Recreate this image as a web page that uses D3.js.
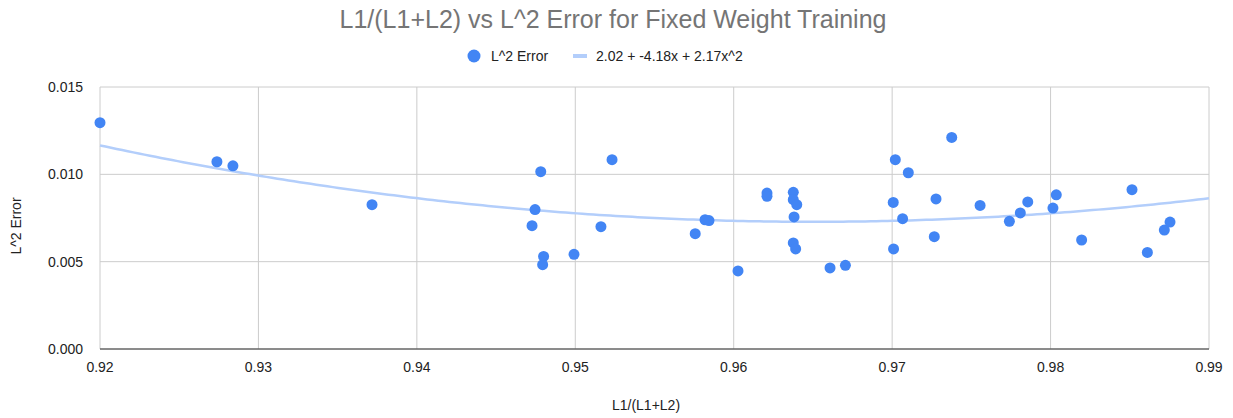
<html>
<head>
<script src="https://cdn.jsdelivr.net/npm/d3@7"></script>
<style>
  body { margin: 0; background: #fff; }
  text { font-family: Arial, "Liberation Sans", sans-serif; }
</style>
</head>
<body>
<svg id="chart" width="1233" height="418"></svg>
<script>
// data
var ratio = [0.9200, 0.92738, 0.92839, 0.93717,
  0.94746, 0.94727, 0.94782, 0.94800, 0.94794, 0.94992, 0.95162, 0.95232,
  0.95757, 0.95819, 0.95844, 0.96027, 0.96210, 0.96210, 0.96376, 0.96376,
  0.96398, 0.96381, 0.96376, 0.96391,
  0.96608, 0.96705, 0.97020, 0.97102, 0.97007, 0.97066, 0.97009, 0.97277,
  0.97266, 0.97376, 0.97555, 0.97740, 0.97809, 0.97856, 0.98015, 0.98036,
  0.98196, 0.98514, 0.98611, 0.98718, 0.98754];
var l2err = [0.01296, 0.01072, 0.01049, 0.00826,
  0.00798, 0.00706, 0.01015, 0.00530, 0.00483, 0.00542, 0.00700, 0.01084,
  0.00660, 0.00740, 0.00735, 0.00447, 0.00893, 0.00874, 0.00897, 0.00855,
  0.00826, 0.00756, 0.00607, 0.00573,
  0.00464, 0.00479, 0.01084, 0.01009, 0.00839, 0.00746, 0.00573, 0.00859,
  0.00643, 0.01211, 0.00822, 0.00731, 0.00779, 0.00842, 0.00807, 0.00883,
  0.00624, 0.00912, 0.00553, 0.00681, 0.00727];
var xTicks = [0.92, 0.93, 0.94, 0.95, 0.96, 0.97, 0.98, 0.99];
var yTicks = [0, 0.005, 0.010, 0.015];
var trendLabel = "2.02 + -4.18x + 2.17x^2";

var svg = d3.select("#chart");
var mgLeft = 100, mgRight = 1209, mgTop = 87, mgBottom = 349;

var xs = d3.scaleLinear().domain([0.92, 0.99]).range([mgLeft, mgRight]);
var ys = d3.scaleLinear().domain([0, 0.015]).range([mgBottom, mgTop]);

// quadratic least squares fit (like the sheet's trendline)
function polyfit(xv, yv) {
  var c = 0.955; // centre x for stability
  var S = [0,0,0,0,0], T = [0,0,0];
  for (var i = 0; i < xv.length; i++) {
    var u = xv[i] - c, p = 1;
    for (var k = 0; k < 5; k++) { S[k] += p; if (k < 3) T[k] += p * yv[i]; p *= u; }
  }
  var A = [[S[0],S[1],S[2],T[0]],[S[1],S[2],S[3],T[1]],[S[2],S[3],S[4],T[2]]];
  for (var r = 0; r < 3; r++) {
    for (var r2 = r + 1; r2 < 3; r2++) {
      var f = A[r2][r] / A[r][r];
      for (var q = r; q < 4; q++) A[r2][q] -= f * A[r][q];
    }
  }
  var b = [0,0,0];
  for (var r = 2; r >= 0; r--) {
    var s = A[r][3];
    for (var q = r + 1; q < 3; q++) s -= A[r][q] * b[q];
    b[r] = s / A[r][r];
  }
  return function(x) { var u = x - c; return b[0] + b[1]*u + b[2]*u*u; };
}
var fit = polyfit(ratio, l2err);

// gridlines
svg.append("g").selectAll("line").data(yTicks).enter().append("line")
  .attr("x1", mgLeft).attr("x2", mgRight)
  .attr("y1", function(d) { return ys(d); }).attr("y2", function(d) { return ys(d); })
  .attr("stroke", "#ccc").attr("stroke-width", 1);
svg.append("g").selectAll("line").data(xTicks).enter().append("line")
  .attr("x1", function(d) { return xs(d); }).attr("x2", function(d) { return xs(d); })
  .attr("y1", mgTop).attr("y2", mgBottom)
  .attr("stroke", "#ccc").attr("stroke-width", 1);

// baseline
svg.append("line").attr("x1", mgLeft).attr("x2", mgRight)
  .attr("y1", mgBottom).attr("y2", mgBottom)
  .attr("stroke", "#333").attr("stroke-width", 1.2);

// tick labels
svg.append("g").selectAll("text").data(yTicks).enter().append("text")
  .attr("x", 83).attr("y", function(d) { return ys(d) + 5; })
  .attr("text-anchor", "end").attr("font-size", 14).attr("fill", "#222")
  .text(function(d) { return d3.format(".3f")(d); });
svg.append("g").selectAll("text").data(xTicks).enter().append("text")
  .attr("x", function(d) { return xs(d); }).attr("y", 372)
  .attr("text-anchor", "middle").attr("font-size", 14).attr("fill", "#222")
  .text(function(d) { return d3.format(".2f")(d); });

// trendline
var xsamp = d3.range(0, 201).map(function(i) { return 0.92 + i * 0.07 / 200; });
svg.append("path").datum(xsamp)
  .attr("d", d3.line().x(function(d) { return xs(d); }).y(function(d) { return ys(fit(d)); }))
  .attr("fill", "none").attr("stroke", "#b3cefb").attr("stroke-width", 2.5);

// points
svg.append("g").selectAll("circle").data(ratio).enter().append("circle")
  .attr("cx", function(d) { return xs(d); })
  .attr("cy", function(d, i) { return ys(l2err[i]); })
  .attr("r", 5.5).attr("fill", "#4285f4");

// title
svg.append("text").attr("x", 613).attr("y", 28).attr("text-anchor", "middle")
  .attr("font-size", 25).attr("fill", "#757575")
  .text("L1/(L1+L2) vs L^2 Error for Fixed Weight Training");

// legend
var lg = svg.append("g");
lg.append("circle").attr("cx", 474).attr("cy", 56).attr("r", 6.5).attr("fill", "#4285f4");
lg.append("text").attr("x", 491).attr("y", 61).attr("font-size", 14).attr("fill", "#222").text("L^2 Error");
lg.append("rect").attr("x", 573).attr("y", 54).attr("width", 14).attr("height", 4).attr("fill", "#b3cefb");
lg.append("text").attr("x", 596).attr("y", 61).attr("font-size", 14).attr("fill", "#222").text(trendLabel);

// axis titles
svg.append("text").attr("x", 646).attr("y", 410).attr("text-anchor", "middle")
  .attr("font-size", 14).attr("fill", "#222").text("L1/(L1+L2)");
svg.append("text").attr("transform", "translate(21,226) rotate(-90)")
  .attr("text-anchor", "middle").attr("font-size", 14).attr("fill", "#222").text("L^2 Error");
</script>
</body>
</html>
